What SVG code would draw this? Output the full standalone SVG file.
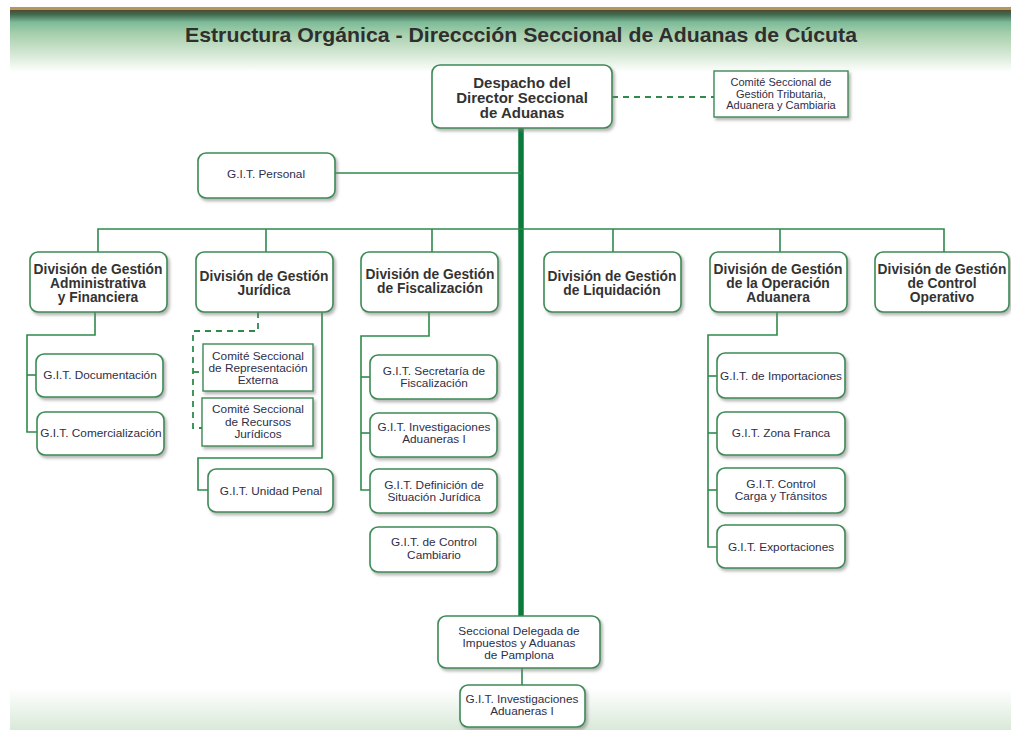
<svg xmlns="http://www.w3.org/2000/svg" width="1011" height="730" viewBox="0 0 1011 730">
<defs>
<linearGradient id="band" x1="0" y1="0" x2="0" y2="1">
<stop offset="0" stop-color="#4f4a33"/>
<stop offset="0.07" stop-color="#3f6a50"/>
<stop offset="0.2" stop-color="#7dbb99"/>
<stop offset="0.38" stop-color="#a6cfac"/>
<stop offset="0.72" stop-color="#d6e8d6"/>
<stop offset="1" stop-color="#ffffff"/>
</linearGradient>
<linearGradient id="foot" x1="0" y1="0" x2="0" y2="1">
<stop offset="0" stop-color="#ffffff"/>
<stop offset="1" stop-color="#d9e9d9"/>
</linearGradient>
<filter id="sh" x="-10%" y="-10%" width="130%" height="140%">
<feDropShadow dx="2" dy="2.5" stdDeviation="1.5" flood-color="#777" flood-opacity="0.55"/>
</filter>
<style>
.box{fill:#fff;stroke:#3c8a55;stroke-width:1.6;filter:url(#sh)}
.sq{fill:#fff;stroke:#3c8a55;stroke-width:1.4;filter:url(#sh)}
.ln{fill:none;stroke:#2f8a4c;stroke-width:1.6}
.dash{fill:none;stroke:#2f8a4c;stroke-width:1.8;stroke-dasharray:6,5}
.trunk{fill:none;stroke:#0b7a3a;stroke-width:5.5}
.t{font-family:"Liberation Sans",Arial,sans-serif;font-size:11.8px;fill:#2e2e48;text-anchor:middle}
.s{font-family:"Liberation Sans",Arial,sans-serif;font-size:11px;fill:#2e2e48;text-anchor:middle}
.b{font-family:"Liberation Sans",Arial,sans-serif;font-size:13.8px;font-weight:bold;fill:#333;text-anchor:middle}
.h{font-family:"Liberation Sans",Arial,sans-serif;font-size:15px;font-weight:bold;fill:#333;text-anchor:middle}
.title{font-family:"Liberation Sans",Arial,sans-serif;font-size:21px;font-weight:bold;fill:#2f2f2f;text-anchor:middle}
</style>
</defs>
<rect x="0" y="0" width="1011" height="730" fill="#fff"/>
<rect x="10" y="7" width="1001" height="3" fill="#b8955a"/>
<rect x="10" y="10" width="1001" height="62" fill="url(#band)"/>
<rect x="10" y="688" width="1001" height="42" fill="url(#foot)"/>
<text class="title" x="521" y="42" textLength="672" lengthAdjust="spacingAndGlyphs">Estructura Orgánica - Direccción Seccional de Aduanas de Cúcuta</text>

<g id="connectors">
<line class="dash" x1="612" y1="97" x2="714" y2="97"/>
<line class="trunk" x1="521" y1="128" x2="521" y2="616"/>
<line class="ln" x1="335" y1="173" x2="521" y2="173"/>
<polyline class="ln" points="98,252 98,229 944,229 944,252"/>
<line class="ln" x1="266" y1="229" x2="266" y2="252"/>
<line class="ln" x1="432" y1="229" x2="432" y2="252"/>
<line class="ln" x1="613" y1="229" x2="613" y2="252"/>
<line class="ln" x1="780" y1="229" x2="780" y2="252"/>
<polyline class="ln" points="95,312 95,335 27,335 27,432 37,432"/>
<line class="ln" x1="27" y1="375" x2="36" y2="375"/>
<polyline class="dash" points="258,312 258,331 193,331 193,428 202,428"/>
<line class="dash" x1="193" y1="372" x2="203" y2="372"/>
<polyline class="ln" points="322,312 322,458 198,458 198,490 208,490"/>
<polyline class="ln" points="429,312 429,336 361,336 361,490 370,490"/>
<line class="ln" x1="361" y1="377" x2="370" y2="377"/>
<line class="ln" x1="361" y1="433" x2="370" y2="433"/>
<polyline class="ln" points="777,312 777,335 708,335 708,547 717,547"/>
<line class="ln" x1="708" y1="376" x2="717" y2="376"/>
<line class="ln" x1="708" y1="433" x2="717" y2="433"/>
<line class="ln" x1="708" y1="490" x2="717" y2="490"/>
<line class="ln" x1="522" y1="668" x2="522" y2="685"/>
</g>

<g id="despacho">
<rect class="box" x="432" y="65" width="180" height="63" rx="8"/>
<text class="h" x="522" y="88">Despacho del</text>
<text class="h" x="522" y="103">Director Seccional</text>
<text class="h" x="522" y="118">de Aduanas</text>
</g>
<g id="comite-gestion">
<rect class="sq" x="714" y="71" width="134" height="46"/>
<text class="s" x="781" y="86">Comité Seccional de</text>
<text class="s" x="781" y="97.5">Gestión Tributaria,</text>
<text class="s" x="781" y="109">Aduanera y Cambiaria</text>
</g>
<g id="git-personal">
<rect class="box" x="198" y="153" width="137" height="45" rx="8"/>
<text class="t" x="266" y="178">G.I.T. Personal</text>
</g>

<g id="div-adm">
<rect class="box" x="30" y="252" width="137" height="60" rx="8"/>
<text class="b" x="98" y="274">División de Gestión</text>
<text class="b" x="98" y="288">Administrativa</text>
<text class="b" x="98" y="302">y Financiera</text>
</g>
<g id="div-jur">
<rect class="box" x="196" y="252" width="137" height="60" rx="8"/>
<text class="b" x="264" y="281">División de Gestión</text>
<text class="b" x="264" y="295">Jurídica</text>
</g>
<g id="div-fisc">
<rect class="box" x="361" y="252" width="137" height="60" rx="8"/>
<text class="b" x="430" y="279">División de Gestión</text>
<text class="b" x="430" y="293">de Fiscalización</text>
</g>
<g id="div-liq">
<rect class="box" x="544" y="252" width="137" height="60" rx="8"/>
<text class="b" x="612" y="281">División de Gestión</text>
<text class="b" x="612" y="295">de Liquidación</text>
</g>
<g id="div-op">
<rect class="box" x="710" y="252" width="137" height="60" rx="8"/>
<text class="b" x="778" y="274">División de Gestión</text>
<text class="b" x="778" y="288">de la Operación</text>
<text class="b" x="778" y="302">Aduanera</text>
</g>
<g id="div-ctrl">
<rect class="box" x="875" y="252" width="134" height="60" rx="8"/>
<text class="b" x="942" y="274">División de Gestión</text>
<text class="b" x="942" y="288">de Control</text>
<text class="b" x="942" y="302">Operativo</text>
</g>

<g id="git-doc">
<rect class="box" x="36" y="354" width="127" height="43" rx="8"/>
<text class="t" x="100" y="379">G.I.T. Documentación</text>
</g>
<g id="git-com">
<rect class="box" x="37" y="412" width="127" height="43" rx="8"/>
<text class="t" x="101" y="437">G.I.T. Comercialización</text>
</g>

<g id="comite-rep">
<rect class="sq" x="203" y="344" width="110" height="47"/>
<text class="t" x="258" y="360">Comité Seccional</text>
<text class="t" x="258" y="372">de Representación</text>
<text class="t" x="258" y="384">Externa</text>
</g>
<g id="comite-rec">
<rect class="sq" x="202" y="398" width="111" height="48"/>
<text class="t" x="258" y="413">Comité Seccional</text>
<text class="t" x="258" y="426">de Recursos</text>
<text class="t" x="258" y="438">Jurídicos</text>
</g>
<g id="git-penal">
<rect class="box" x="208" y="469" width="125" height="43" rx="8"/>
<text class="t" x="271" y="495">G.I.T. Unidad Penal</text>
</g>

<g id="git-secretaria">
<rect class="box" x="370" y="355" width="127" height="44" rx="8"/>
<text class="t" x="434" y="375">G.I.T. Secretaría de</text>
<text class="t" x="434" y="387">Fiscalización</text>
</g>
<g id="git-inv">
<rect class="box" x="370" y="413" width="127" height="44" rx="8"/>
<text class="t" x="434" y="431">G.I.T. Investigaciones</text>
<text class="t" x="434" y="443">Aduaneras I</text>
</g>
<g id="git-def">
<rect class="box" x="370" y="469" width="127" height="44" rx="8"/>
<text class="t" x="434" y="489">G.I.T. Definición de</text>
<text class="t" x="434" y="501">Situación Jurídica</text>
</g>
<g id="git-cambiario">
<rect class="box" x="370" y="527" width="127" height="45" rx="8"/>
<text class="t" x="434" y="546">G.I.T. de Control</text>
<text class="t" x="434" y="559">Cambiario</text>
</g>

<g id="git-import">
<rect class="box" x="717" y="353" width="128" height="45" rx="8"/>
<text class="t" x="781" y="380">G.I.T. de Importaciones</text>
</g>
<g id="git-zona">
<rect class="box" x="717" y="412" width="128" height="43" rx="8"/>
<text class="t" x="781" y="437">G.I.T. Zona Franca</text>
</g>
<g id="git-carga">
<rect class="box" x="717" y="468" width="128" height="45" rx="8"/>
<text class="t" x="781" y="488">G.I.T. Control</text>
<text class="t" x="781" y="500">Carga y Tránsitos</text>
</g>
<g id="git-export">
<rect class="box" x="717" y="525" width="128" height="43" rx="8"/>
<text class="t" x="781" y="551">G.I.T. Exportaciones</text>
</g>

<g id="seccional-pamplona">
<rect class="box" x="438" y="616" width="162" height="52" rx="8"/>
<text class="t" x="519" y="635">Seccional Delegada de</text>
<text class="t" x="519" y="647">Impuestos y Aduanas</text>
<text class="t" x="519" y="659">de Pamplona</text>
</g>
<g id="git-inv-pamplona">
<rect class="box" x="460" y="685" width="125" height="42" rx="8"/>
<text class="t" x="522" y="703">G.I.T. Investigaciones</text>
<text class="t" x="522" y="715">Aduaneras I</text>
</g>
</svg>
